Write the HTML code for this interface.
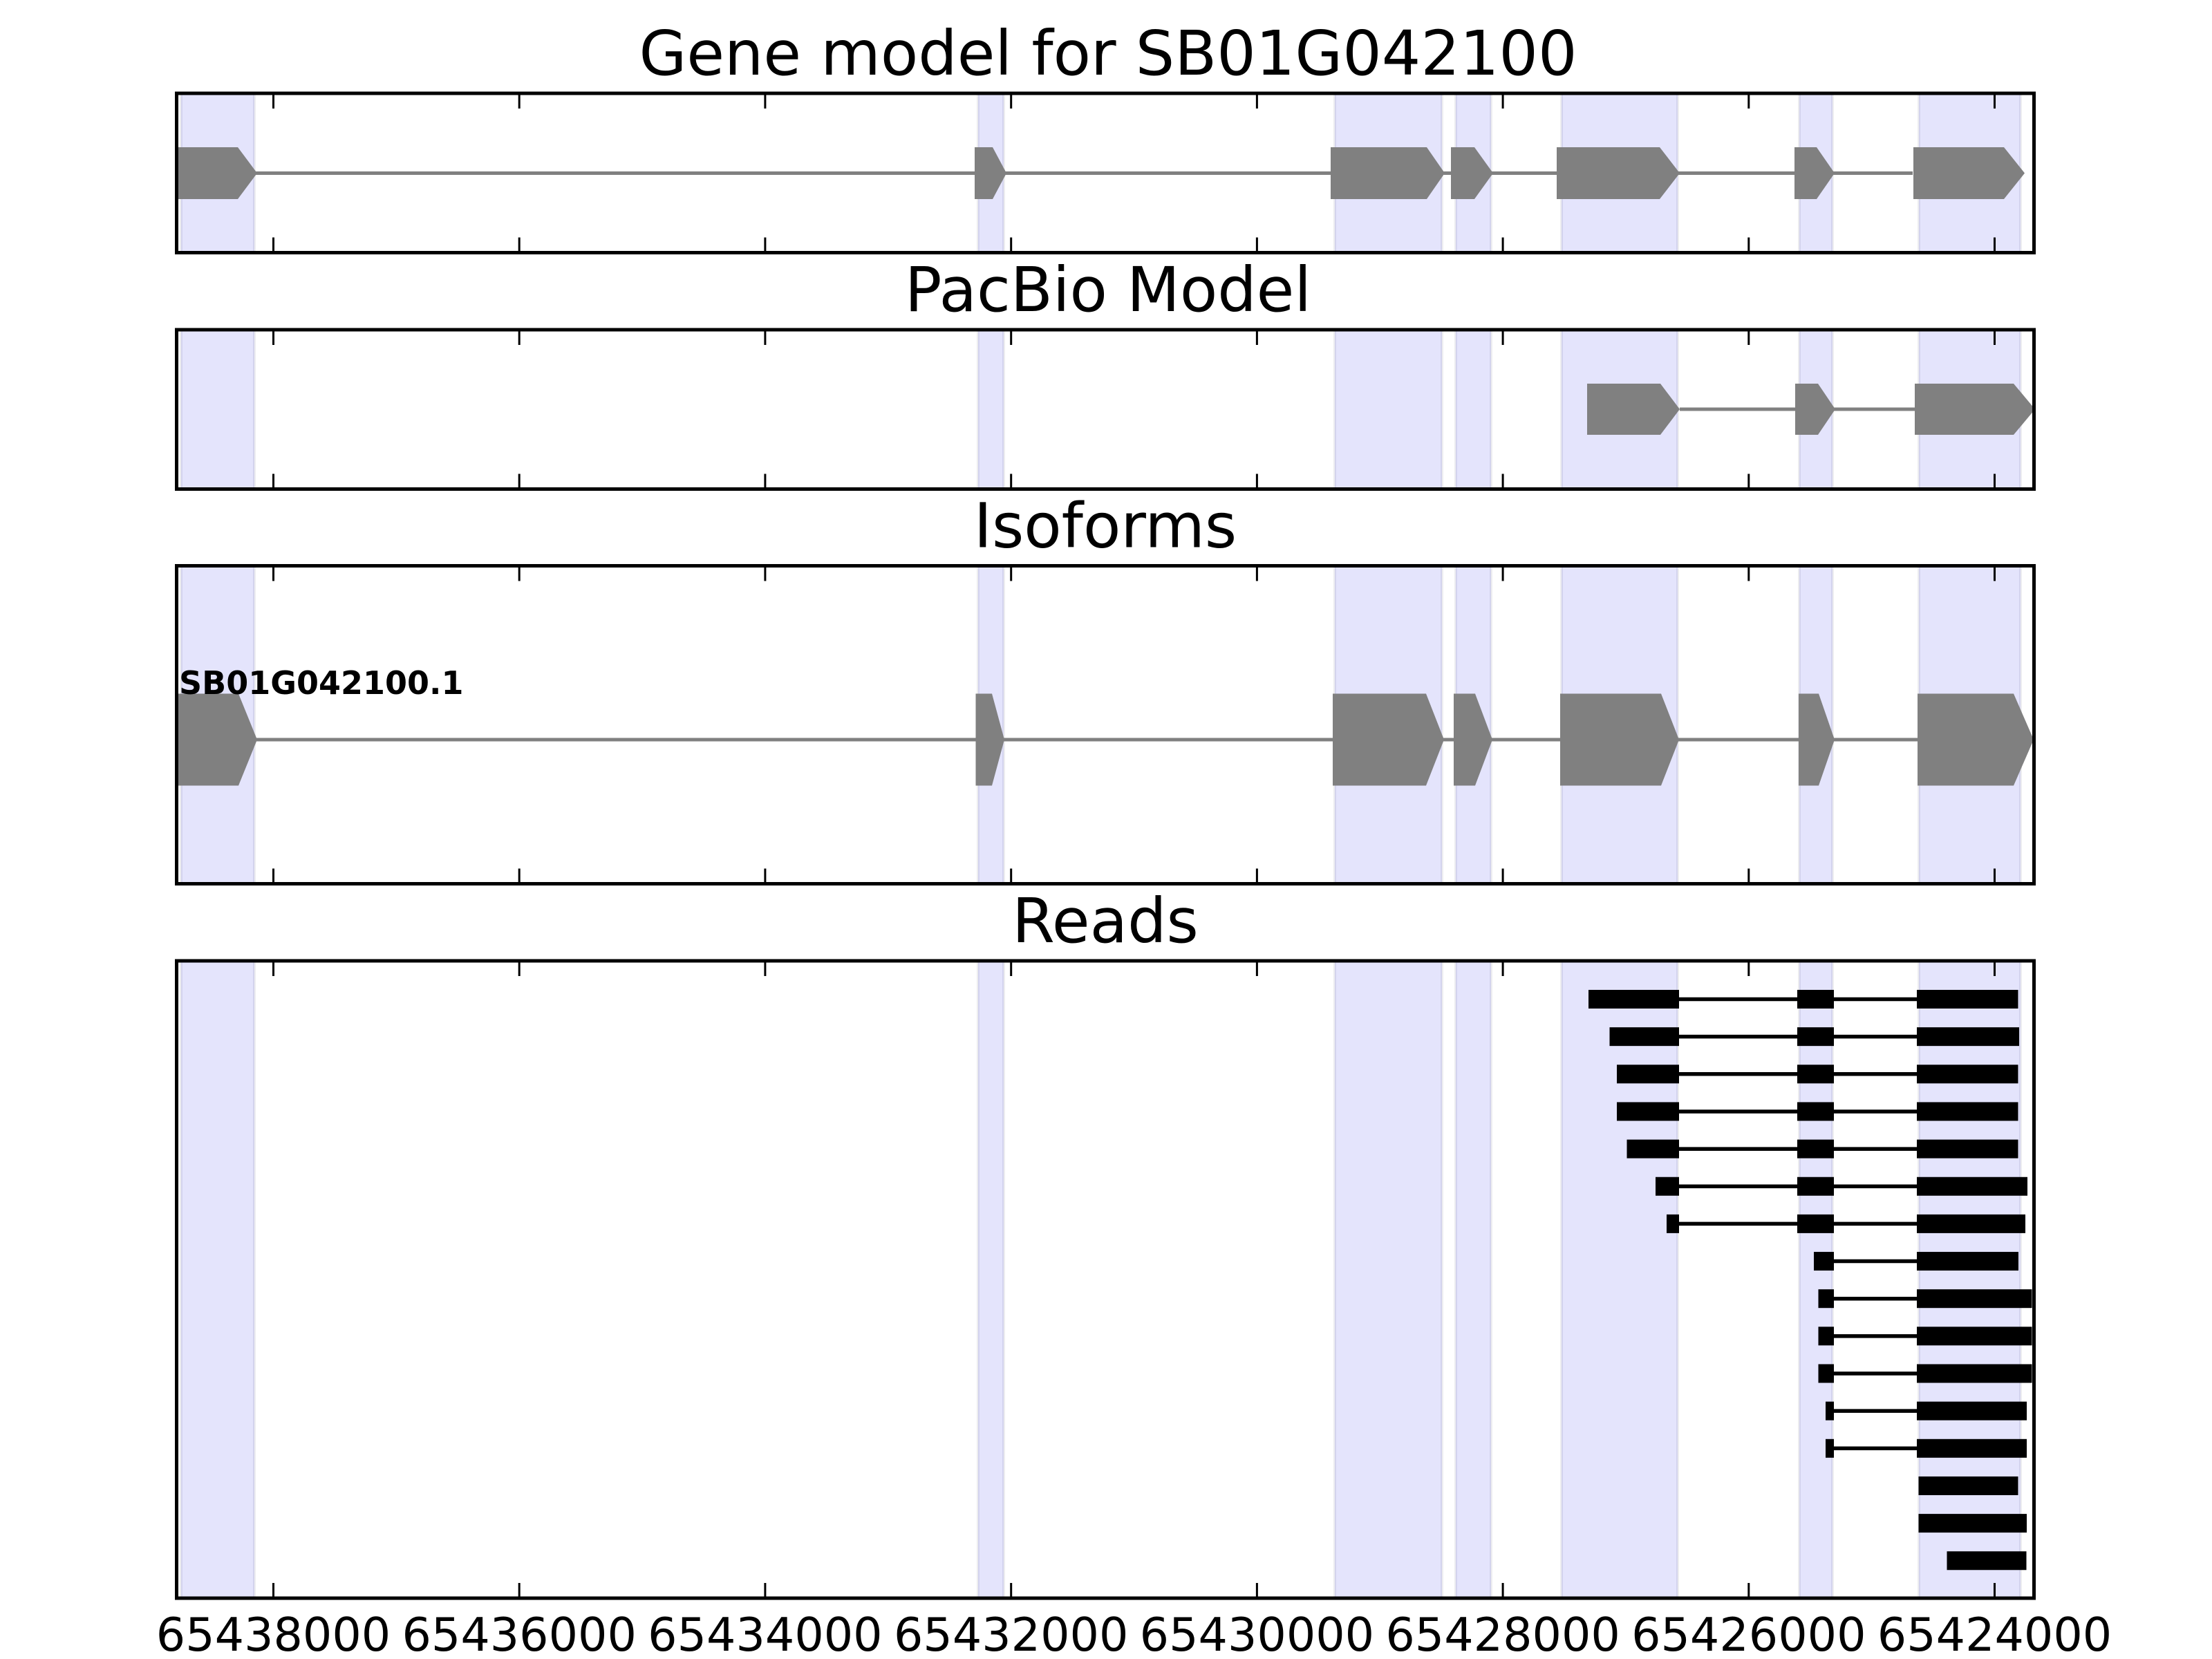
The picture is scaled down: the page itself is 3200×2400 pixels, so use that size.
<!DOCTYPE html>
<html>
<head>
<meta charset="utf-8">
<style>
  html,body{margin:0;padding:0;background:#fff;}
  svg{display:block;}
  text{font-family:"DejaVu Sans","Liberation Sans",sans-serif;}
</style>
</head>
<body>
<svg xmlns="http://www.w3.org/2000/svg" width="3200" height="2400" viewBox="0 0 3200 2400">
  <rect x="0" y="0" width="3200" height="2400" fill="#ffffff"/>
  <defs>
    <clipPath id="c1"><rect x="255.5" y="135" width="2687" height="230.5"/></clipPath>
    <clipPath id="c2"><rect x="255.5" y="477" width="2687" height="230.5"/></clipPath>
    <clipPath id="c3"><rect x="255.5" y="818.5" width="2687" height="460"/></clipPath>
    <clipPath id="c4"><rect x="255.5" y="1390" width="2687" height="922"/></clipPath>
  </defs>

  <!-- Titles -->
  <text x="1603" y="108" font-size="88.9" text-anchor="middle" fill="#000">Gene model for SB01G042100</text>
  <text x="1603" y="450" font-size="88.9" text-anchor="middle" fill="#000">PacBio Model</text>
  <text x="1599" y="791.5" font-size="88.9" text-anchor="middle" fill="#000">Isoforms</text>
  <text x="1599" y="1363" font-size="88.9" text-anchor="middle" fill="#000">Reads</text>

  <!-- ============ Panel 1 ============ -->
  <g clip-path="url(#c1)">
    <g fill="#e4e4fc" stroke="rgba(0,0,40,0.07)" stroke-width="4">
      <rect x="262" y="130" width="106" height="240"/>
      <rect x="1415" y="130" width="37" height="240"/>
      <rect x="1931" y="130" width="155" height="240"/>
      <rect x="2106" y="130" width="51" height="240"/>
      <rect x="2259" y="130" width="168" height="240"/>
      <rect x="2603" y="130" width="48" height="240"/>
      <rect x="2776" y="130" width="147" height="240"/>
    </g>
    <line x1="255" y1="250.5" x2="2767" y2="250.5" stroke="#808080" stroke-width="5"/>
    <g fill="#808080">
      <polygon points="240,213 344,213 372,250.5 344,288 240,288"/>
      <polygon points="1410,213 1436,213 1456,250.5 1436,288 1410,288"/>
      <polygon points="1925,213 2064,213 2090,250.5 2064,288 1925,288"/>
      <polygon points="2099,213 2133,213 2160,250.5 2133,288 2099,288"/>
      <polygon points="2252,213 2401,213 2430,250.5 2401,288 2252,288"/>
      <polygon points="2596,213 2628,213 2654,250.5 2628,288 2596,288"/>
      <polygon points="2768,213 2899,213 2929,250.5 2899,288 2768,288"/>
    </g>
  </g>

  <!-- ============ Panel 2 ============ -->
  <g clip-path="url(#c2)">
    <g fill="#e4e4fc" stroke="rgba(0,0,40,0.07)" stroke-width="4">
      <rect x="262" y="472" width="106" height="240"/>
      <rect x="1415" y="472" width="37" height="240"/>
      <rect x="1931" y="472" width="155" height="240"/>
      <rect x="2106" y="472" width="51" height="240"/>
      <rect x="2259" y="472" width="168" height="240"/>
      <rect x="2603" y="472" width="48" height="240"/>
      <rect x="2776" y="472" width="147" height="240"/>
    </g>
    <line x1="2430" y1="592" x2="2770" y2="592" stroke="#808080" stroke-width="5"/>
    <g fill="#808080">
      <polygon points="2296,555 2402,555 2430,592 2402,629 2296,629"/>
      <polygon points="2597,555 2630,555 2655,592 2630,629 2597,629"/>
      <polygon points="2770,555 2913,555 2944,592 2913,629 2770,629"/>
    </g>
  </g>

  <!-- ============ Panel 3 ============ -->
  <g clip-path="url(#c3)">
    <g fill="#e4e4fc" stroke="rgba(0,0,40,0.07)" stroke-width="4">
      <rect x="262" y="813" width="106" height="470"/>
      <rect x="1415" y="813" width="37" height="470"/>
      <rect x="1931" y="813" width="155" height="470"/>
      <rect x="2106" y="813" width="51" height="470"/>
      <rect x="2259" y="813" width="168" height="470"/>
      <rect x="2603" y="813" width="48" height="470"/>
      <rect x="2776" y="813" width="147" height="470"/>
    </g>
    <line x1="255" y1="1070" x2="2776" y2="1070" stroke="#808080" stroke-width="5"/>
    <g fill="#808080">
      <polygon points="240,1003.5 345,1003.5 372,1070 345,1136.5 240,1136.5"/>
      <polygon points="1411.5,1003.5 1435,1003.5 1453,1070 1435,1136.5 1411.5,1136.5"/>
      <polygon points="1928,1003.5 2063,1003.5 2089,1070 2063,1136.5 1928,1136.5"/>
      <polygon points="2103,1003.5 2134,1003.5 2159,1070 2134,1136.5 2103,1136.5"/>
      <polygon points="2257,1003.5 2403,1003.5 2429,1070 2403,1136.5 2257,1136.5"/>
      <polygon points="2602,1003.5 2631,1003.5 2654,1070 2631,1136.5 2602,1136.5"/>
      <polygon points="2774,1003.5 2913,1003.5 2942,1070 2913,1136.5 2774,1136.5"/>
    </g>
    <text x="259" y="1004" font-size="46" font-weight="bold" fill="#000">SB01G042100.1</text>
  </g>

  <!-- ============ Panel 4 ============ -->
  <g clip-path="url(#c4)">
    <g fill="#e4e4fc" stroke="rgba(0,0,40,0.07)" stroke-width="4">
      <rect x="262" y="1385" width="106" height="932"/>
      <rect x="1415" y="1385" width="37" height="932"/>
      <rect x="1931" y="1385" width="155" height="932"/>
      <rect x="2106" y="1385" width="51" height="932"/>
      <rect x="2259" y="1385" width="168" height="932"/>
      <rect x="2603" y="1385" width="48" height="932"/>
      <rect x="2776" y="1385" width="147" height="932"/>
    </g>
    <g stroke="#000" stroke-width="5.5">
      <line x1="2429" y1="1445.5" x2="2773" y2="1445.5"/>
      <line x1="2429" y1="1499.65" x2="2773" y2="1499.65"/>
      <line x1="2429" y1="1553.8" x2="2773" y2="1553.8"/>
      <line x1="2429" y1="1607.95" x2="2773" y2="1607.95"/>
      <line x1="2429" y1="1662.1" x2="2773" y2="1662.1"/>
      <line x1="2429" y1="1716.25" x2="2773" y2="1716.25"/>
      <line x1="2429" y1="1770.4" x2="2773" y2="1770.4"/>
      <line x1="2624" y1="1824.55" x2="2773" y2="1824.55"/>
      <line x1="2630.5" y1="1878.7" x2="2773" y2="1878.7"/>
      <line x1="2630.5" y1="1932.85" x2="2773" y2="1932.85"/>
      <line x1="2630.5" y1="1987" x2="2773" y2="1987"/>
      <line x1="2641" y1="2041.15" x2="2773" y2="2041.15"/>
      <line x1="2641" y1="2095.3" x2="2773" y2="2095.3"/>
    </g>
    <g fill="#000">
      <!-- row 1 -->
      <rect x="2298" y="1432" width="131" height="27"/>
      <rect x="2600" y="1432" width="53" height="27"/>
      <rect x="2773" y="1432" width="146.5" height="27"/>
      <!-- row 2 -->
      <rect x="2328.5" y="1486.15" width="100.5" height="27"/>
      <rect x="2600" y="1486.15" width="53" height="27"/>
      <rect x="2773" y="1486.15" width="148" height="27"/>
      <!-- row 3 -->
      <rect x="2339" y="1540.3" width="90" height="27"/>
      <rect x="2600" y="1540.3" width="53" height="27"/>
      <rect x="2773" y="1540.3" width="146.5" height="27"/>
      <!-- row 4 -->
      <rect x="2339" y="1594.45" width="90" height="27"/>
      <rect x="2600" y="1594.45" width="53" height="27"/>
      <rect x="2773" y="1594.45" width="146.5" height="27"/>
      <!-- row 5 -->
      <rect x="2353.5" y="1648.6" width="75.5" height="27"/>
      <rect x="2600" y="1648.6" width="53" height="27"/>
      <rect x="2773" y="1648.6" width="146.5" height="27"/>
      <!-- row 6 -->
      <rect x="2395" y="1702.75" width="34" height="27"/>
      <rect x="2600" y="1702.75" width="53" height="27"/>
      <rect x="2773" y="1702.75" width="160" height="27"/>
      <!-- row 7 -->
      <rect x="2411" y="1756.9" width="18" height="27"/>
      <rect x="2600" y="1756.9" width="53" height="27"/>
      <rect x="2773" y="1756.9" width="157" height="27"/>
      <!-- row 8 -->
      <rect x="2624" y="1811.05" width="29" height="27"/>
      <rect x="2773" y="1811.05" width="147" height="27"/>
      <!-- row 9 -->
      <rect x="2630.5" y="1865.2" width="22.5" height="27"/>
      <rect x="2773" y="1865.2" width="166.5" height="27"/>
      <!-- row 10 -->
      <rect x="2630.5" y="1919.35" width="22.5" height="27"/>
      <rect x="2773" y="1919.35" width="166.5" height="27"/>
      <!-- row 11 -->
      <rect x="2630.5" y="1973.5" width="22.5" height="27"/>
      <rect x="2773" y="1973.5" width="166.5" height="27"/>
      <!-- row 12 -->
      <rect x="2641" y="2027.65" width="12" height="27"/>
      <rect x="2773" y="2027.65" width="159" height="27"/>
      <!-- row 13 -->
      <rect x="2641" y="2081.8" width="12" height="27"/>
      <rect x="2773" y="2081.8" width="159" height="27"/>
      <!-- row 14 -->
      <rect x="2775.5" y="2135.95" width="144" height="27"/>
      <!-- row 15 -->
      <rect x="2775.5" y="2190.1" width="156.5" height="27"/>
      <!-- row 16 -->
      <rect x="2816.5" y="2244.25" width="115" height="27"/>
    </g>
  </g>

  <!-- Ticks (top and bottom of every panel, inward) -->
  <g stroke="#000" stroke-width="3">
    <!-- panel 1 -->
    <path d="M395.5 137V157M751.2 137V157M1106.9 137V157M1462.7 137V157M1818.4 137V157M2174.1 137V157M2529.8 137V157M2885.5 137V157"/>
    <path d="M395.5 363.5V343.5M751.2 363.5V343.5M1106.9 363.5V343.5M1462.7 363.5V343.5M1818.4 363.5V343.5M2174.1 363.5V343.5M2529.8 363.5V343.5M2885.5 363.5V343.5"/>
    <!-- panel 2 -->
    <path d="M395.5 479V499M751.2 479V499M1106.9 479V499M1462.7 479V499M1818.4 479V499M2174.1 479V499M2529.8 479V499M2885.5 479V499"/>
    <path d="M395.5 705.5V685.5M751.2 705.5V685.5M1106.9 705.5V685.5M1462.7 705.5V685.5M1818.4 705.5V685.5M2174.1 705.5V685.5M2529.8 705.5V685.5M2885.5 705.5V685.5"/>
    <!-- panel 3 -->
    <path d="M395.5 820.5V840.5M751.2 820.5V840.5M1106.9 820.5V840.5M1462.7 820.5V840.5M1818.4 820.5V840.5M2174.1 820.5V840.5M2529.8 820.5V840.5M2885.5 820.5V840.5"/>
    <path d="M395.5 1276.5V1256.5M751.2 1276.5V1256.5M1106.9 1276.5V1256.5M1462.7 1276.5V1256.5M1818.4 1276.5V1256.5M2174.1 1276.5V1256.5M2529.8 1276.5V1256.5M2885.5 1276.5V1256.5"/>
    <!-- panel 4 -->
    <path d="M395.5 1392V1412M751.2 1392V1412M1106.9 1392V1412M1462.7 1392V1412M1818.4 1392V1412M2174.1 1392V1412M2529.8 1392V1412M2885.5 1392V1412"/>
    <path d="M395.5 2310V2290M751.2 2310V2290M1106.9 2310V2290M1462.7 2310V2290M1818.4 2310V2290M2174.1 2310V2290M2529.8 2310V2290M2885.5 2310V2290"/>
  </g>

  <!-- Spines -->
  <g fill="none" stroke="#000" stroke-width="5">
    <rect x="255.5" y="135" width="2687" height="230.5"/>
    <rect x="255.5" y="477" width="2687" height="230.5"/>
    <rect x="255.5" y="818.5" width="2687" height="460"/>
    <rect x="255.5" y="1390" width="2687" height="922"/>
  </g>

  <!-- Tick labels -->
  <g font-size="66.7" text-anchor="middle" fill="#000">
    <text x="395.5" y="2388">65438000</text>
    <text x="751.2" y="2388">65436000</text>
    <text x="1106.9" y="2388">65434000</text>
    <text x="1462.7" y="2388">65432000</text>
    <text x="1818.4" y="2388">65430000</text>
    <text x="2174.1" y="2388">65428000</text>
    <text x="2529.8" y="2388">65426000</text>
    <text x="2885.5" y="2388">65424000</text>
  </g>
</svg>
</body>
</html>
